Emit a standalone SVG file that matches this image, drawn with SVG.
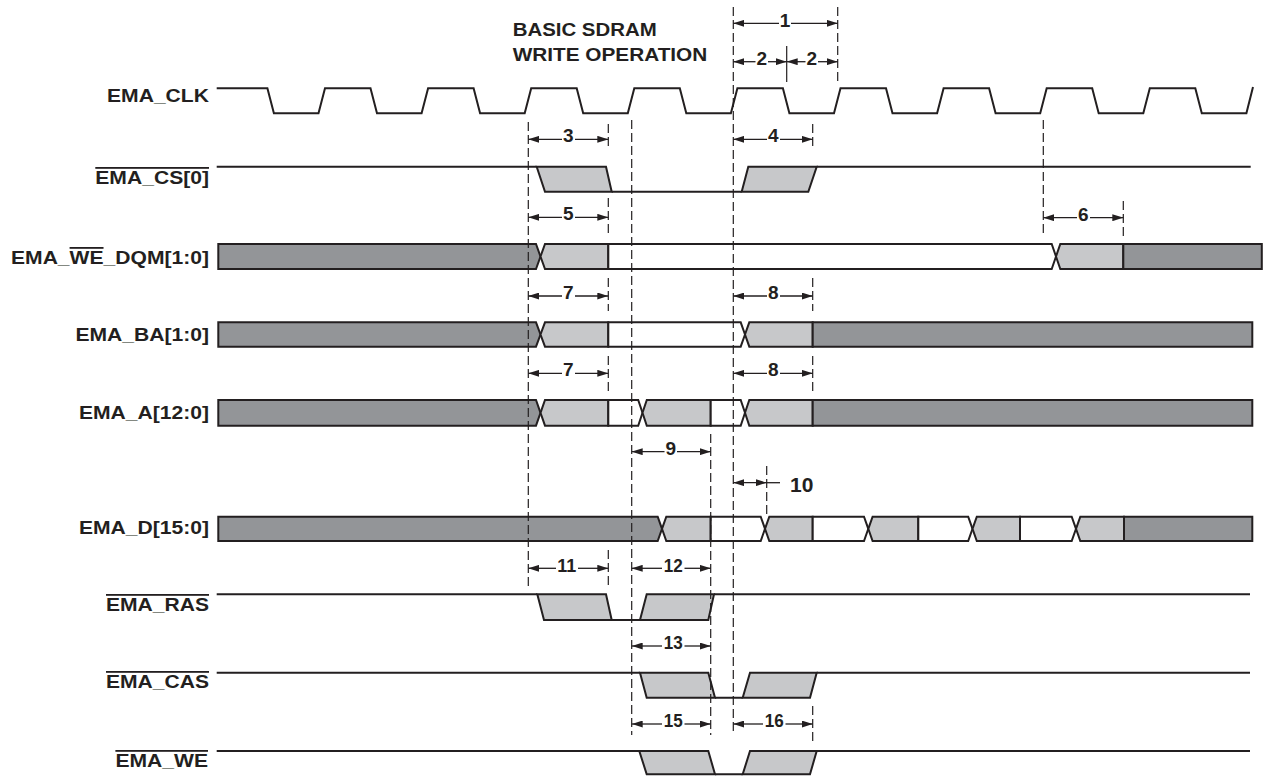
<svg xmlns="http://www.w3.org/2000/svg" width="1263" height="776" viewBox="0 0 1263 776">
<style>
.sig{fill:none;stroke:#231f20;stroke-width:2;stroke-linejoin:miter}
.dk{fill:#939598;stroke:#231f20;stroke-width:2}
.lt{fill:#c7c8ca;stroke:#231f20;stroke-width:2}
.wh{fill:#ffffff;stroke:#231f20;stroke-width:2}
.dash{fill:none;stroke:#231f20;stroke-width:1.2;stroke-dasharray:9 4}
.ext{fill:none;stroke:#231f20;stroke-width:1.2}
.dim{fill:none;stroke:#231f20;stroke-width:1.3}
.lbl{font-family:"Liberation Sans",Arial,sans-serif;font-weight:bold;font-size:18px;fill:#231f20;text-anchor:end}
.ttl{font-family:"Liberation Sans",Arial,sans-serif;font-weight:bold;font-size:18px;fill:#231f20}
.num{font-family:"Liberation Sans",Arial,sans-serif;font-weight:bold;font-size:19px;fill:#231f20;text-anchor:middle}
.ov{text-decoration:overline}
</style>
<defs>
<marker id="ah" viewBox="0 0 11 7" refX="11" refY="3.5" markerWidth="11" markerHeight="7" orient="auto-start-reverse" markerUnits="userSpaceOnUse">
<path d="M0,0 L11,3.5 L0,7 Z" fill="#231f20"/>
</marker>
</defs>
<rect width="1263" height="776" fill="#ffffff"/>

<g id="title">
<text class="ttl" x="512.7" y="35.7" textLength="144" lengthAdjust="spacingAndGlyphs">BASIC SDRAM</text>
<text class="ttl" x="512.7" y="60.7" textLength="194.6" lengthAdjust="spacingAndGlyphs">WRITE OPERATION</text>
</g>

<g id="labels">
<text class="lbl" x="209" y="102" textLength="102" lengthAdjust="spacingAndGlyphs">EMA_CLK</text>
<text class="lbl ov" x="209" y="184" textLength="113.7" lengthAdjust="spacingAndGlyphs">EMA_CS[0]</text>
<text class="lbl" x="209" y="264" textLength="198" lengthAdjust="spacingAndGlyphs">EMA_<tspan class="ov">WE</tspan>_DQM[1:0]</text>
<text class="lbl" x="209" y="341" textLength="133.6" lengthAdjust="spacingAndGlyphs">EMA_BA[1:0]</text>
<text class="lbl" x="209" y="419" textLength="130" lengthAdjust="spacingAndGlyphs">EMA_A[12:0]</text>
<text class="lbl" x="209" y="534" textLength="130" lengthAdjust="spacingAndGlyphs">EMA_D[15:0]</text>
<text class="lbl ov" x="209" y="611" textLength="103" lengthAdjust="spacingAndGlyphs">EMA_RAS</text>
<text class="lbl ov" x="209" y="688" textLength="103" lengthAdjust="spacingAndGlyphs">EMA_CAS</text>
<text class="lbl ov" x="208" y="767" textLength="92.6" lengthAdjust="spacingAndGlyphs">EMA_WE</text>
</g>

<g id="sig-clk">
<path class="sig" d="M216.7,88.3 H267.4 L273.9,113.3 H318.5 L325,88.3 H370.5 L377,113.3 H421.6 L428.1,88.3 H473.6 L480.1,113.3 H524.7 L531.2,88.3 H576.7 L583.2,113.3 H627.8 L634.3,88.3 H679.8 L686.3,113.3 H730.9 L737.4,88.3 H782.9 L789.4,113.3 H834 L840.5,88.3 H886 L892.5,113.3 H937.1 L943.6,88.3 H989.1 L995.6,113.3 H1040.2 L1046.7,88.3 H1092.2 L1098.7,113.3 H1143.3 L1149.8,88.3 H1195.3 L1201.8,113.3 H1246.4 L1253,87"/>
</g>

<g id="sig-cs">
<path class="lt" d="M536.7,166.7 H606 L611.7,191.7 H545 Z"/>
<path class="lt" d="M741.7,191.7 H808.3 L816.7,166.7 H748.3 Z"/>
<path class="sig" d="M216.7,166.7 H536.7 M611.7,191.7 H741.7 M816.7,166.7 H1250.7"/>
</g>

<g id="sig-wedqm">
<path class="dk" d="M218.3,244 H536 L540.5,256.5 L536,269 H218.3 Z"/>
<path class="lt" d="M545,244 H608.3 V269 H545 L540.5,256.5 Z"/>
<path class="wh" d="M608.3,244 H1051.7 L1056,256.5 L1051.7,269 H608.3 Z"/>
<path class="lt" d="M1060.3,244 H1123.3 V269 H1060.3 L1056,256.5 Z"/>
<path class="dk" d="M1123.3,244 H1261.8 V269 H1123.3 Z"/>
</g>

<g id="sig-ba">
<path class="dk" d="M218.3,322.3 H536 L540.5,334.5 L536,346.7 H218.3 Z"/>
<path class="lt" d="M545,322.3 H608.3 V346.7 H545 L540.5,334.5 Z"/>
<path class="wh" d="M608.3,322.3 H740.7 L745,334.5 L740.7,346.7 H608.3 Z"/>
<path class="lt" d="M749.3,322.3 H812.7 V346.7 H749.3 L745,334.5 Z"/>
<path class="dk" d="M812.7,322.3 H1252.3 V346.7 H812.7 Z"/>
</g>

<g id="sig-a">
<path class="dk" d="M218.3,400 H536 L540.5,412.8 L536,425.7 H218.3 Z"/>
<path class="lt" d="M545,400 H608.3 V425.7 H545 L540.5,412.8 Z"/>
<path class="wh" d="M608.3,400 H638.2 L642.5,412.8 L638.2,425.7 H608.3 Z"/>
<path class="lt" d="M646.8,400 H710.7 V425.7 H646.8 L642.5,412.8 Z"/>
<path class="wh" d="M710.7,400 H740.7 L745,412.8 L740.7,425.7 H710.7 Z"/>
<path class="lt" d="M749.3,400 H812.7 V425.7 H749.3 L745,412.8 Z"/>
<path class="dk" d="M812.7,400 H1252.3 V425.7 H812.7 Z"/>
</g>

<g id="sig-d">
<path class="dk" d="M218.3,516.7 H657.7 L662,528.8 L657.7,541 H218.3 Z"/>
<path class="lt" d="M666.3,516.7 H710.7 V541 H666.3 L662,528.8 Z"/>
<path class="wh" d="M710.7,516.7 H760.7 L765,528.8 L760.7,541 H710.7 Z"/>
<path class="lt" d="M769.3,516.7 H812.7 V541 H769.3 L765,528.8 Z"/>
<path class="wh" d="M812.7,516.7 H864 L868.3,528.8 L864,541 H812.7 Z"/>
<path class="lt" d="M872.6,516.7 H918.3 V541 H872.6 L868.3,528.8 Z"/>
<path class="wh" d="M918.3,516.7 H968.2 L972.5,528.8 L968.2,541 H918.3 Z"/>
<path class="lt" d="M976.8,516.7 H1020 V541 H976.8 L972.5,528.8 Z"/>
<path class="wh" d="M1020,516.7 H1071.7 L1076,528.8 L1071.7,541 H1020 Z"/>
<path class="lt" d="M1080.3,516.7 H1124 V541 H1080.3 L1076,528.8 Z"/>
<path class="dk" d="M1124,516.7 H1252.3 V541 H1124 Z"/>
</g>

<g id="sig-ras">
<path class="lt" d="M537.3,594.3 H606 L611.7,620 H544 Z"/>
<path class="lt" d="M640,620 H708.3 L714,594.3 H646.7 Z"/>
<path class="sig" d="M216.7,594.3 H537.3 M611.7,620 H640 M714,594.3 H1250"/>
</g>

<g id="sig-cas">
<path class="lt" d="M640,672.7 H708.3 L715,697.7 H646.7 Z"/>
<path class="lt" d="M742.7,697.7 H810 L816.7,672.7 H750 Z"/>
<path class="sig" d="M216.7,672.7 H640 M715,697.7 H742.7 M816.7,672.7 H1250"/>
</g>

<g id="sig-we">
<path class="lt" d="M639.3,751 H708.3 L715,774.3 H646.7 Z"/>
<path class="lt" d="M742.7,774.3 H810 L816.7,751 H750 Z"/>
<path class="sig" d="M216.7,751 H639.3 M715,774.3 H742.7 M816.7,751 H1250"/>
</g>

<g id="connectors">
<g id="extension-lines">
<path class="dash" d="M528.3,122 V587"/>
<path class="dash" d="M631.7,120 V735"/>
<path class="dash" d="M733.3,7 V735"/>
<path class="dash" d="M837.7,7 V82"/>
<path class="ext" d="M786.7,46 V82"/>
<path class="dash" d="M608.3,124 V150 M608.3,198 V236 M608.3,278 V311 M608.3,356 V394 M608.3,550 V587"/>
<path class="dash" d="M710.7,434 V735"/>
<path class="dash" d="M812.7,124 V150 M812.7,278 V311 M812.7,356 V394 M812.7,706 V744"/>
<path class="dash" d="M766.7,466 V518"/>
<path class="dash" d="M1043.3,120 V235"/>
<path class="dash" d="M1123.3,201 V237"/>
</g>
<g id="dimensions">
<line class="dim" x1="779" y1="23.3" x2="733.3" y2="23.3" marker-end="url(#ah)"/>
<line class="dim" x1="791" y1="23.3" x2="837.7" y2="23.3" marker-end="url(#ah)"/>
<text class="num" x="785" y="26.5">1</text>
<line class="dim" x1="755.5" y1="61.7" x2="733.3" y2="61.7" marker-end="url(#ah)"/>
<line class="dim" x1="768" y1="61.7" x2="786.7" y2="61.7" marker-end="url(#ah)"/>
<text class="num" x="761.7" y="64.7">2</text>
<line class="dim" x1="805.5" y1="61.7" x2="786.7" y2="61.7" marker-end="url(#ah)"/>
<line class="dim" x1="818" y1="61.7" x2="837.7" y2="61.7" marker-end="url(#ah)"/>
<text class="num" x="811.7" y="64.7">2</text>
<line class="dim" x1="562" y1="139.3" x2="528.3" y2="139.3" marker-end="url(#ah)"/>
<line class="dim" x1="575" y1="139.3" x2="608.3" y2="139.3" marker-end="url(#ah)"/>
<text class="num" x="568.3" y="142.3">3</text>
<line class="dim" x1="767" y1="139.3" x2="733.3" y2="139.3" marker-end="url(#ah)"/>
<line class="dim" x1="780" y1="139.3" x2="812.7" y2="139.3" marker-end="url(#ah)"/>
<text class="num" x="773.3" y="142.3">4</text>
<line class="dim" x1="562" y1="217.3" x2="528.3" y2="217.3" marker-end="url(#ah)"/>
<line class="dim" x1="575" y1="217.3" x2="608.3" y2="217.3" marker-end="url(#ah)"/>
<text class="num" x="568.3" y="220.3">5</text>
<line class="dim" x1="1077" y1="217.7" x2="1043.3" y2="217.7" marker-end="url(#ah)"/>
<line class="dim" x1="1090" y1="217.7" x2="1123.3" y2="217.7" marker-end="url(#ah)"/>
<text class="num" x="1083.3" y="220.7">6</text>
<line class="dim" x1="562" y1="296" x2="528.3" y2="296" marker-end="url(#ah)"/>
<line class="dim" x1="575" y1="296" x2="608.3" y2="296" marker-end="url(#ah)"/>
<text class="num" x="568.3" y="299">7</text>
<line class="dim" x1="767" y1="296" x2="733.3" y2="296" marker-end="url(#ah)"/>
<line class="dim" x1="780" y1="296" x2="812.7" y2="296" marker-end="url(#ah)"/>
<text class="num" x="773.3" y="299">8</text>
<line class="dim" x1="562" y1="373.3" x2="528.3" y2="373.3" marker-end="url(#ah)"/>
<line class="dim" x1="575" y1="373.3" x2="608.3" y2="373.3" marker-end="url(#ah)"/>
<text class="num" x="568.3" y="376.3">7</text>
<line class="dim" x1="767" y1="373.3" x2="733.3" y2="373.3" marker-end="url(#ah)"/>
<line class="dim" x1="780" y1="373.3" x2="812.7" y2="373.3" marker-end="url(#ah)"/>
<text class="num" x="773.3" y="376.3">8</text>
<line class="dim" x1="664.5" y1="451.7" x2="631.7" y2="451.7" marker-end="url(#ah)"/>
<line class="dim" x1="677" y1="451.7" x2="710.7" y2="451.7" marker-end="url(#ah)"/>
<text class="num" x="670.7" y="454.7">9</text>
<line class="dim" x1="733.3" y1="482.7" x2="766.7" y2="482.7" marker-start="url(#ah)" marker-end="url(#ah)"/>
<line class="dim" x1="766.7" y1="482.7" x2="780" y2="482.7"/>
<text class="ttl" x="790" y="491.5" style="font-size:21px">10</text>
<line class="dim" x1="556" y1="568.3" x2="528.3" y2="568.3" marker-end="url(#ah)"/>
<line class="dim" x1="578" y1="568.3" x2="608.3" y2="568.3" marker-end="url(#ah)"/>
<text class="num" x="566.7" y="571.5" textLength="19" lengthAdjust="spacingAndGlyphs">11</text>
<line class="dim" x1="662" y1="568.3" x2="631.7" y2="568.3" marker-end="url(#ah)"/>
<line class="dim" x1="684.5" y1="568.3" x2="710.7" y2="568.3" marker-end="url(#ah)"/>
<text class="num" x="673.3" y="571.5" textLength="19" lengthAdjust="spacingAndGlyphs">12</text>
<line class="dim" x1="662" y1="646" x2="631.7" y2="646" marker-end="url(#ah)"/>
<line class="dim" x1="684.5" y1="646" x2="710.7" y2="646" marker-end="url(#ah)"/>
<text class="num" x="673.3" y="649.2" textLength="19" lengthAdjust="spacingAndGlyphs">13</text>
<line class="dim" x1="662" y1="724" x2="631.7" y2="724" marker-end="url(#ah)"/>
<line class="dim" x1="684.5" y1="724" x2="710.7" y2="724" marker-end="url(#ah)"/>
<text class="num" x="673.3" y="727.2" textLength="19" lengthAdjust="spacingAndGlyphs">15</text>
<line class="dim" x1="763" y1="724" x2="733.3" y2="724" marker-end="url(#ah)"/>
<line class="dim" x1="785.5" y1="724" x2="812.7" y2="724" marker-end="url(#ah)"/>
<text class="num" x="774.3" y="727.2" textLength="19" lengthAdjust="spacingAndGlyphs">16</text>
</g>
</g>
</svg>
